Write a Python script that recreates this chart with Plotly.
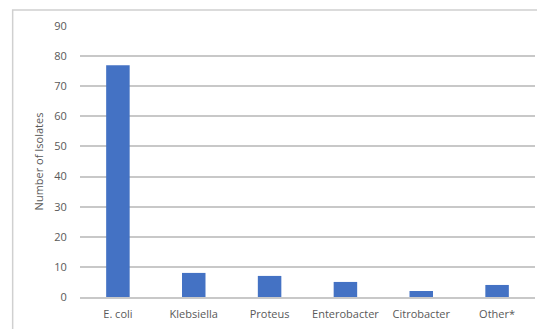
import plotly.graph_objects as go

# Isolate counts by organism
organisms = ["E. coli", "Klebsiella", "Proteus", "Enterobacter", "Citrobacter", "Other*"]
isolates = [77, 8, 7, 5, 2, 4]
y_ticks = [0, 10, 20, 30, 40, 50, 60, 70, 80, 90]

bar_color = "#4472C4"
text_color = "#595959"
grid_color = "#C8C8C8"

fig = go.Figure(
    go.Bar(
        x=organisms,
        y=isolates,
        marker=dict(color=bar_color, line=dict(width=0)),
        width=0.31,
    )
)

fig.update_layout(
    template="none",
    width=537,
    height=329,
    margin=dict(l=80, r=2, t=26, b=32),
    paper_bgcolor="white",
    plot_bgcolor="white",
    font=dict(family="Open Sans, sans-serif", size=11, color=text_color),
    showlegend=False,
    bargap=0.69,
)

fig.update_yaxes(
    range=[0, 90],
    tickmode="array",
    tickvals=y_ticks,
    showgrid=True,
    gridcolor=grid_color,
    gridwidth=1.5,
    zeroline=False,
    showline=False,
    ticks="outside",
    ticklen=10,
    tickcolor="rgba(0,0,0,0)",
    title=dict(text="Number of Isolates", font=dict(size=11, color=text_color), standoff=8),
    automargin=False,
)

fig.update_xaxes(
    showgrid=False,
    showline=True,
    linecolor=grid_color,
    linewidth=1.5,
    ticks="outside",
    ticklen=6,
    tickcolor="rgba(0,0,0,0)",
    automargin=False,
)

# Outer chart frame
fig.add_shape(
    type="rect",
    xref="paper", yref="paper",
    x0=-0.148, x1=1.2, y0=-0.2, y1=1.059,
    line=dict(color="#D0D0D0", width=1.5),
    fillcolor="rgba(0,0,0,0)",
    layer="below",
)

fig.write_html("out.html")
